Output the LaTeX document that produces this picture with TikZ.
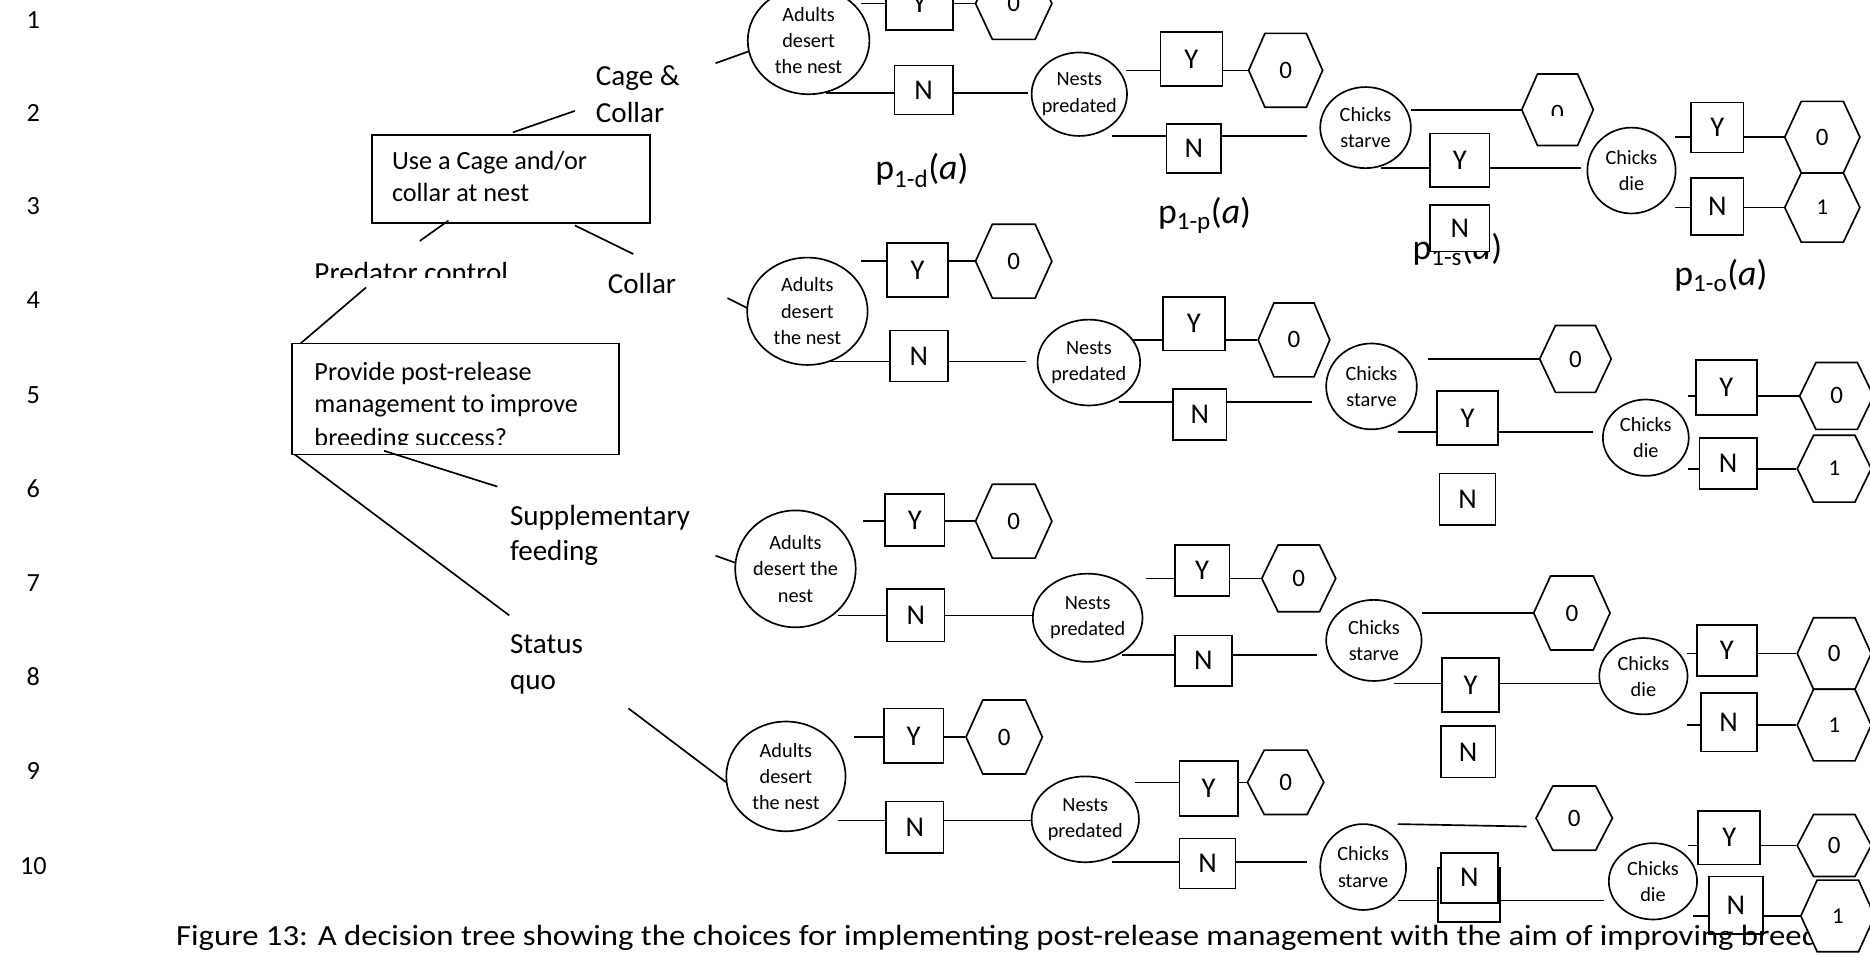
\documentclass[tikz,border=0pt]{standalone}
\usepackage{fontspec}
\setmainfont{Carlito}
\usetikzlibrary{shapes.geometric}
\newcommand{\hexa}[6]{%
  \path[draw,fill=white] ({#2-#4/2},#3) -- ({#2-0.28*#4},{#3-#5/2}) -- ({#2+0.28*#4},{#3-#5/2}) -- ({#2+#4/2},#3) -- ({#2+0.28*#4},{#3+#5/2}) -- ({#2-0.28*#4},{#3+#5/2}) -- cycle;
  \node[hext,minimum width=#4,minimum height=#5] (#1) at (#2,#3) {#6};}
\begin{document}
\begin{tikzpicture}[x=1pt,y=-1pt,line width=1.4pt,
  lbl/.style={inner sep=0,anchor=base west,font=\fontsize{24.4}{28}\selectfont},
  blbl/.style={inner sep=0,anchor=base west,font=\fontsize{22}{26}\selectfont},
  num/.style={inner sep=0,anchor=base,font=\fontsize{22}{26}\selectfont},
  box/.style={draw,inner sep=0},
  ev/.style={draw,fill=white,ellipse,inner sep=-6pt,align=center,font=\fontsize{17}{22}\selectfont},
  yn/.style={draw,fill=white,inner sep=0,font=\fontsize{24}{24}\selectfont},
  hext/.style={inner sep=0,font=\fontsize{21}{21}\selectfont},
  plbl/.style={inner sep=0,font=\fontsize{30}{32}\selectfont},
  captext/.style={inner sep=0,anchor=base west,font=\fontsize{24.5}{28}\selectfont}]
\useasboundingbox (0,0) rectangle (1568,802);
% row numbers
\node[num] (r1) at (28,24) {1};
\node[num] (r2) at (28,102) {2};
\node[num] (r3) at (28,180) {3};
\node[num] (r4) at (28,259) {4};
\node[num] (r5) at (28,338) {5};
\node[num] (r6) at (28,417) {6};
\node[num] (r7) at (28,496) {7};
\node[num] (r8) at (28,575) {8};
\node[num] (r9) at (28,654) {9};
\node[num] (r10) at (28,733) {10};
% left labels and boxes
\node[lbl] (cc1) at (499,72) {Cage \&};
\node[lbl] (cc2) at (499,103) {Collar};
\node[box,minimum width=233,minimum height=74] (ucbox) at (428.5,150) {};
\node[blbl] (uc1) at (328,142) {Use a Cage and/or};
\node[blbl] (uc2) at (328,169) {collar at nest};
\begin{scope}
\clip (250,200) rectangle (450,233);
\node[lbl] (pc) at (263,237) {Predator control};
\end{scope}
\node[lbl] (col) at (509,246) {Collar};
\node[box,minimum width=274,minimum height=93] (prbox) at (382,334.5) {};
\node[blbl] (pr1) at (263,319) {Provide post-release};
\node[blbl] (pr2) at (263,346) {management to improve};
\begin{scope}
\clip (250,340) rectangle (515,373);
\node[blbl] (pr3) at (263,374) {breeding success?};
\end{scope}
\node[lbl] (sf1) at (427,441) {Supplementary};
\node[lbl] (sf2) at (427,470) {feeding};
\node[lbl] (sq1) at (427,548) {Status};
\node[lbl] (sq2) at (427,578) {quo};
\draw (430,111) -- (482,93);
\draw (376,185) -- (352,202);
\draw (482,189) -- (531,213);
\draw (307,241) -- (252,288);
\draw (322,378) -- (417,408);
\draw (247,381) -- (427,516);
\draw (600,53) -- (628,43);
\draw (610,250) -- (628,259);
\draw (600,466) -- (617,472);
\draw (527,594) -- (609,656);
% probability labels
\node[plbl] (p1d) at (773,143) {p\textsubscript{1-d}(\textit{a})};
\node[plbl] (p1p) at (1010,181) {p\textsubscript{1-p}(\textit{a})};
\node[plbl] (p1o) at (1443,231) {p\textsubscript{1-o}(\textit{a})};
\node[plbl] (p1s) at (1222,209) {p\textsubscript{1-s}(\textit{a})};
% ===== Branch 1
\node[ev,minimum width=102,minimum height=90] (A1) at (678,34) {Adults\\desert\\the nest};
\node[yn,minimum width=56,minimum height=44] (a1y) at (771,3) {Y};
\hexa{a1h}{850}{3}{64}{60}{0}
\draw (a1y.west) -- ++(-20,0);
\draw (a1y.east) -- (a1h.west);
\node[yn,minimum width=49,minimum height=41] (a1n) at (774.5,75.5) {N};
\draw (a1n.west |- 0,78) -- (693,78);
\draw (a1n.east |- 0,78) -- (862,78);
\node[ev,minimum width=80,minimum height=70] (P1) at (905,79) {Nests\\predated};
\node[yn,minimum width=52,minimum height=45] (p1y) at (999,49.5) {Y};
\hexa{p1h}{1078}{59}{62}{62}{0}
\draw (p1y.west |- 0,59) -- ++(-28,0);
\draw (p1y.east |- 0,59) -- (p1h.west);
\node[yn,minimum width=46,minimum height=41] (p1n) at (1001,124.5) {N};
\draw (p1n.west |- 0,114) -- (932,114);
\draw (p1n.east |- 0,114) -- (1096,114);
\node[ev,minimum width=76,minimum height=68] (S1) at (1145,107) {Chicks\\starve};
\hexa{s1h}{1306}{92}{60}{60}{}
\begin{scope}
\clip (1290,70) rectangle (1322,97);
\node[hext] (s1t) at (1306,95) {0};
\end{scope}
\draw (1183,92) -- (s1h.west);
\node[yn,minimum width=50,minimum height=45] (s1y) at (1224,134.5) {Y};
\draw (s1y.west |- 0,141) -- (1158,141);
\draw (s1y.east |- 0,141) -- (1326,141);
\node[yn,minimum width=50,minimum height=39] (s1n) at (1224,191.5) {N};
\node[ev,minimum width=74,minimum height=72] (D1) at (1368,143) {Chicks\\die};
\node[yn,minimum width=44,minimum height=42] (d1y) at (1440,107) {Y};
\hexa{d1h0}{1528}{115}{63}{60}{0}
\draw (d1y.west |- 0,115) -- ++(-13,0);
\draw (d1y.east |- 0,115) -- (d1h0.west);
\node[yn,minimum width=44,minimum height=48] (d1n) at (1440,173) {N};
\hexa{d1h1}{1528}{174}{63}{58}{\fontsize{19}{19}\selectfont 1}
\draw (d1n.west |- 0,174) -- ++(-13,0);
\draw (d1n.east |- 0,174) -- (d1h1.west);
% ===== Branch 2
\node[ev,minimum width=101,minimum height=90] (A2) at (677,261) {Adults\\desert\\the nest};
\node[yn,minimum width=51,minimum height=45] (a2y) at (769.5,226.5) {Y};
\hexa{a2h}{850}{219}{64}{62}{0}
\draw (a2y.west |- 0,219) -- ++(-21,0);
\draw (a2y.east |- 0,219) -- (a2h.west);
\node[yn,minimum width=49,minimum height=43] (a2n) at (770.5,298.5) {N};
\draw (a2n.west |- 0,303) -- (697,303);
\draw (a2n.east |- 0,303) -- (860,303);
\node[ev,minimum width=86,minimum height=72] (P2) at (913,304) {Nests\\predated};
\node[yn,minimum width=52,minimum height=45] (p2y) at (1001,271.5) {Y};
\hexa{p2h}{1085}{285}{60}{62}{0}
\draw (p2y.west |- 0,285) -- ++(-25,0);
\draw (p2y.east |- 0,285) -- (p2h.west);
\node[yn,minimum width=45,minimum height=43] (p2n) at (1006,347.5) {N};
\draw (p2n.west |- 0,337) -- (938,337);
\draw (p2n.east |- 0,337) -- (1100,337);
\node[ev,minimum width=76,minimum height=72] (S2) at (1150,324) {Chicks\\starve};
\hexa{s2h}{1321}{301}{60}{56}{0}
\draw (1197,301) -- (s2h.west);
\node[yn,minimum width=51,minimum height=45] (s2y) at (1230.5,350.5) {Y};
\draw (s2y.west |- 0,362) -- (1172,362);
\draw (s2y.east |- 0,362) -- (1336,362);
\node[yn,minimum width=47,minimum height=43] (s2n) at (1230.5,418.5) {N};
\node[ev,minimum width=72,minimum height=64] (D2) at (1380,367) {Chicks\\die};
\node[yn,minimum width=51,minimum height=46] (d2y) at (1447.5,325) {Y};
\hexa{d2h0}{1540}{332}{62}{56}{0}
\draw (d2y.west |- 0,332) -- ++(-6,0);
\draw (d2y.east |- 0,332) -- (d2h0.west);
\node[yn,minimum width=48,minimum height=43] (d2n) at (1449,388.5) {N};
\hexa{d2h1}{1538}{393}{62}{56}{\fontsize{19}{19}\selectfont 1}
\draw (d2n.west |- 0,393) -- ++(-9,0);
\draw (d2n.east |- 0,393) -- (d2h1.west);
% ===== Branch 3
\node[ev,minimum width=101,minimum height=98] (A3) at (667,477) {Adults\\desert the\\nest};
\node[yn,minimum width=50,minimum height=44] (a3y) at (767,436) {Y};
\hexa{a3h}{850}{437}{64}{62}{0}
\draw (a3y.west |- 0,437) -- ++(-18,0);
\draw (a3y.east |- 0,437) -- (a3h.west);
\node[yn,minimum width=48,minimum height=44] (a3n) at (768,516) {N};
\draw (a3n.west |- 0,516) -- (703,516);
\draw (a3n.east |- 0,516) -- (866,516);
\node[ev,minimum width=92,minimum height=74] (P3) at (912,518) {Nests\\predated};
\node[yn,minimum width=46,minimum height=43] (p3y) at (1008,478.5) {Y};
\hexa{p3h}{1089}{485}{62}{56}{0}
\draw (p3y.west |- 0,485) -- ++(-23,0);
\draw (p3y.east |- 0,485) -- (p3h.west);
\node[yn,minimum width=48,minimum height=42] (p3n) at (1009,554) {N};
\draw (p3n.west |- 0,549) -- (941,549);
\draw (p3n.east |- 0,549) -- (1104,549);
\node[ev,minimum width=80,minimum height=68] (S3) at (1152,537) {Chicks\\starve};
\hexa{s3h}{1318}{514}{64}{62}{0}
\draw (1192,514) -- (s3h.west);
\node[yn,minimum width=48,minimum height=45] (s3y) at (1233,574.5) {Y};
\draw (s3y.west |- 0,573) -- (1169,573);
\draw (s3y.east |- 0,573) -- (1343,573);
\node[yn,minimum width=46,minimum height=43] (s3n) at (1231,630.5) {N};
\node[ev,minimum width=74,minimum height=64] (D3) at (1378,567) {Chicks\\die};
\node[yn,minimum width=50,minimum height=43] (d3y) at (1448,545.5) {Y};
\hexa{d3h0}{1538}{548}{62}{60}{0}
\draw (d3y.west |- 0,548) -- ++(-8,0);
\draw (d3y.east |- 0,548) -- (d3h0.west);
\node[yn,minimum width=47,minimum height=49] (d3n) at (1449.5,605.5) {N};
\hexa{d3h1}{1538}{608}{62}{60}{\fontsize{19}{19}\selectfont 1}
\draw (d3n.west |- 0,608) -- ++(-11,0);
\draw (d3n.east |- 0,608) -- (d3h1.west);
% ===== Branch 4
\node[ev,minimum width=100,minimum height=92] (A4) at (659,651) {Adults\\desert\\the nest};
\node[yn,minimum width=50,minimum height=46] (a4y) at (766,617) {Y};
\hexa{a4h}{842}{618}{64}{62}{0}
\draw (a4y.west |- 0,618) -- ++(-24,0);
\draw (a4y.east |- 0,618) -- (a4h.west);
\node[yn,minimum width=48,minimum height=43] (a4n) at (767,693.5) {N};
\draw (a4n.west |- 0,688) -- (703,688);
\draw (a4n.east |- 0,688) -- (866,688);
\node[ev,minimum width=90,minimum height=72] (P4) at (910,687) {Nests\\predated};
\node[yn,minimum width=49,minimum height=46] (p4y) at (1013.5,661) {Y};
\hexa{p4h}{1078}{656}{64}{54}{0}
\draw (p4y.west |- 0,656) -- ++(-37,0);
\draw (p4y.east |- 0,656) -- (p4h.west);
\node[yn,minimum width=47,minimum height=42] (p4n) at (1012.5,724) {N};
\draw (p4n.west |- 0,723) -- (932,723);
\draw (p4n.east |- 0,723) -- (1096,723);
\node[ev,minimum width=72,minimum height=72] (S4) at (1143,727) {Chicks\\starve};
\hexa{s4h}{1320}{686}{64}{54}{0}
\draw (1172,691) -- (1280,693);
\node[yn,minimum width=52,minimum height=45] (s4y) at (1232,750.5) {Y};
\draw (s4y.west |- 0,755) -- (1172,755);
\draw (s4y.east |- 0,755) -- (1345,755);
\node[yn,minimum width=48,minimum height=42] (s4n) at (1232,736) {N};
\node[ev,minimum width=74,minimum height=64] (D4) at (1386,739) {Chicks\\die};
\node[yn,minimum width=52,minimum height=45] (d4y) at (1450,702.5) {Y};
\hexa{d4h0}{1538}{709}{62}{52}{0}
\draw (d4y.west |- 0,709) -- ++(-8,0);
\draw (d4y.east |- 0,709) -- (d4h0.west);
\node[yn,minimum width=45,minimum height=48] (d4n) at (1455.5,759) {N};
% caption
\node[captext] (caption) at (147,793) {\scalebox{1.12}[1]{Figure 13: A decision tree showing the choices for implementing post-release management with the aim of improving breeding}};
\hexa{d4h1}{1541}{768}{62}{60}{\fontsize{19}{19}\selectfont 1}
\draw (d4n.west |- 0,768) -- ++(-13,0);
\draw (d4n.east |- 0,768) -- (d4h1.west);
\end{tikzpicture}
\end{document}
